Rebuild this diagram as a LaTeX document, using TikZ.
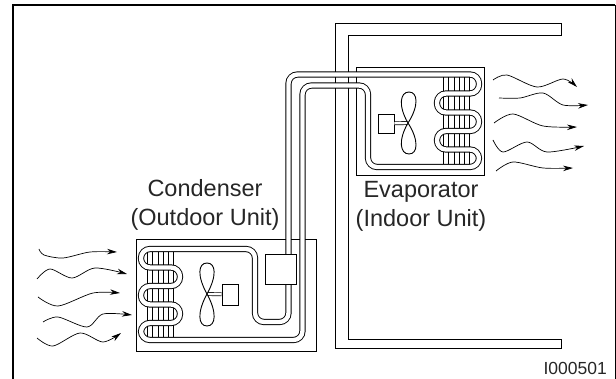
\documentclass[tikz,border=0pt]{standalone}
\usepackage{fontspec}
\setmainfont{Liberation Sans}
\usetikzlibrary{arrows.meta}
\tikzset{
  unitbox/.style={draw,line width=0.9pt},
  wall/.style={draw,line width=1pt},
  fin/.style={line width=0.7pt},
  tube/.style={line width=0.9pt,double,double distance=4.4pt,rounded corners=9pt},
  shaft/.style={line width=0.7pt,double,double distance=2.4pt},
  blade/.style={draw,line width=0.9pt,fill=white},
  motorbox/.style={draw,line width=0.9pt,fill=white,inner sep=0pt},
  flow/.style={line width=0.7pt,-{Stealth[length=10pt,width=5.5pt]}},
  label/.style={font=\fontsize{23.5}{28}\selectfont,inner sep=0pt,text=black!85,anchor=base}
}
\begin{document}
\begin{tikzpicture}[x=1pt,y=-1pt]
  \useasboundingbox (0,0) rectangle (616,379);
  % frame
  \draw[line width=2pt] (13,379) -- (13,5) -- (615,5);
  \draw[line width=1pt] (615,5) -- (615,379);
  % wall
  \draw[wall] (561,24) -- (335,24) -- (335,349) -- (561,349) -- (561,340) -- (348,340) -- (348,36) -- (561,36) -- cycle;
  % units
  \draw[unitbox] (136,239) rectangle (316,351);
  \draw[unitbox] (356,67) rectangle (484,175);
  % fins
  \foreach \x in {147.7,152.7,158.3,163.3,168.3,173.3}
    \draw[fin] (\x,250) -- (\x,340);
  \foreach \x in {443,448.5,454,459,464,469}
    \draw[fin] (\x,76) -- (\x,166);
  % refrigerant line
  \draw[tube] (288.5,256) -- (288.5,74.5) -- (479,74.5) -- (479,93.5) -- (437,93.5) -- (437,112.5)
    -- (479,112.5) -- (479,131) -- (437,131) -- (437,149.5) -- (479,149.5) -- (479,167)
    -- (368,167) -- (368,85.5) -- (302.5,85.5) -- (302.5,340) -- (141,340) -- (141,323)
    -- (180,323) -- (180,304.5) -- (141,304.5) -- (141,286) -- (180,286) -- (180,267.5)
    -- (141,267.5) -- (141,249) -- (255,249) -- (255,322) -- (288.5,322) -- (288.5,282);
  % compressor
  \node[motorbox,minimum width=31pt,minimum height=30pt] (compressor) at (280.5,269) {};
  % fans
  \coordinate (fanout) at (207,294);
  \coordinate (fanin) at (408,123);
  \node[motorbox,minimum width=16pt,minimum height=21pt] (motorout) at (230,294.5) {};
  \node[motorbox,minimum width=16pt,minimum height=19pt] (motorin) at (386,123.5) {};
  \draw[shaft] (fanout) -- (motorout);
  \draw[shaft] (fanin) -- (motorin);
  \draw[blade] (fanout) .. controls (197,276) and (198,263) .. (207,263) .. controls (216,263) and (217,276) .. (fanout)
    .. controls (197,312) and (198,326) .. (207,326) .. controls (216,326) and (217,312) .. (fanout);
  \draw[blade] (fanin) .. controls (398,106) and (400,92) .. (409,92) .. controls (418,92) and (419,106) .. (fanin)
    .. controls (398,140) and (400,154) .. (409,154) .. controls (418,154) and (419,140) .. (fanin);
  % air in
  \draw[flow] plot[smooth] coordinates {(39,249) (44,255) (63,258) (90,252) (117,252)};
  \draw[flow] plot[smooth] coordinates {(37,279) (50,269) (72,278) (95,268) (127,274)};
  \draw[flow] plot[smooth] coordinates {(38,297) (58,306) (93,293) (120,293)};
  \draw[flow] plot[smooth] coordinates {(43,322) (58,317) (87,327) (103,314) (132,315)};
  \draw[flow] plot[smooth] coordinates {(37,338) (53,346) (80,333) (103,342) (121,333)};
  % air out
  \draw[flow] plot[smooth] coordinates {(493,80) (507,75) (537,87) (563,79) (577,87)};
  \draw[flow] plot[smooth] coordinates {(499,98) (520,98) (543,93) (563,105) (588,105)};
  \draw[flow] plot[smooth] coordinates {(494,123) (513,114) (543,126) (577,127)};
  \draw[flow] plot[smooth] coordinates {(493,140) (503,152) (527,142) (547,152) (584,146)};
  \draw[flow] plot[smooth] coordinates {(496,171) (513,162) (543,168) (573,168)};
  % labels
  \node[label] (condenser) at (205,197) {Condenser};
  \node[label] (outdoor) at (205,226) {(Outdoor Unit)};
  \node[label] (evaporator) at (421,198) {Evaporator};
  \node[label] (indoor) at (421,227) {(Indoor Unit)};
  \node[font=\fontsize{17.5}{20}\selectfont,text=black!85,anchor=base east,inner sep=0pt] (partno) at (607,374) {I000501};
\end{tikzpicture}
\end{document}
